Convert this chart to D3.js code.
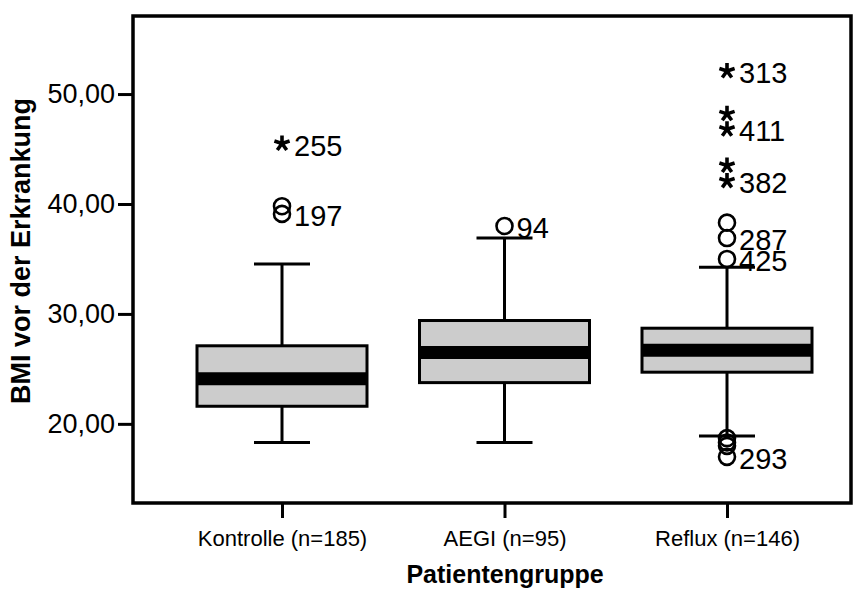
<!DOCTYPE html>
<html>
<head>
<meta charset="utf-8">
<script src="https://cdn.jsdelivr.net/npm/d3@7"></script>
<style>
  html, body { margin: 0; padding: 0; background: #fff; }
  svg { display: block; font-family: "Liberation Sans", Arial, sans-serif; }
</style>
</head>
<body>
<svg id="chart" width="864" height="590"></svg>
<script>
// Patient groups and their BMI box statistics
const categories = ["Kontrolle (n=185)", "AEGI (n=95)", "Reflux (n=146)"];
const whiskerLow  = [18.3, 18.3, 18.9];
const q1          = [21.6, 23.75, 24.7];
const median      = [24.1, 26.5, 26.7];
const q3          = [27.1, 29.4, 28.7];
const whiskerHigh = [34.55, 36.9, 34.25];

// Outliers (circles) and extreme values (stars): group index, BMI, case label
const outlierGroup = [0, 0, 1, 2, 2, 2, 2, 2, 2, 2];
const outlierValue = [39.8, 39.1, 38.0, 38.3, 36.9, 35.0, 18.7, 18.3, 18.0, 17.0];
const outlierLabel = ["", "197", "94", "", "287", "425", "", "", "", "293"];

const extremeGroup = [0, 2, 2, 2, 2, 2];
const extremeValue = [45.5, 52.1, 48.2, 46.8, 43.5, 42.1];
const extremeLabel = ["255", "313", "", "411", "", "382"];

const yTicks = [20, 30, 40, 50];
const yTitle = "BMI vor der Erkrankung";
const xTitle = "Patientengruppe";

const svg = d3.select("#chart");
const frame = { left: 133, right: 851, top: 16, bottom: 503 };

const y = d3.scaleLinear().domain([12.8, 57.1]).range([frame.bottom, frame.top]);
const x = d3.scalePoint().domain(categories).range([282, 727]);

const boxHalf = 85, capHalf = 28;
const fmt = v => d3.format(".2f")(v).replace(".", ",");

// plot frame
svg.append("rect")
  .attr("x", frame.left).attr("y", frame.top)
  .attr("width", frame.right - frame.left).attr("height", frame.bottom - frame.top)
  .attr("fill", "none").attr("stroke", "#000").attr("stroke-width", 3.5);

// y axis
const yAxis = svg.append("g")
  .attr("transform", `translate(${frame.left},0)`)
  .call(d3.axisLeft(y).tickValues(yTicks).tickFormat(fmt).tickSize(15).tickPadding(3));
yAxis.select(".domain").remove();
yAxis.selectAll(".tick line").attr("stroke", "#000").attr("stroke-width", 3);
yAxis.selectAll(".tick text")
  .attr("fill", "#000").style("font-size", "27px")
  .style("font-family", "Liberation Sans, Arial, sans-serif");

// x axis
const xAxis = svg.append("g")
  .attr("transform", `translate(0,${frame.bottom})`)
  .call(d3.axisBottom(x).tickSize(15).tickPadding(12));
xAxis.select(".domain").remove();
xAxis.selectAll(".tick line").attr("stroke", "#000").attr("stroke-width", 3);
xAxis.selectAll(".tick text")
  .attr("fill", "#000").style("font-size", "22px")
  .style("font-family", "Liberation Sans, Arial, sans-serif");

// axis titles
svg.append("text")
  .attr("x", 505).attr("y", 583)
  .attr("text-anchor", "middle")
  .style("font-size", "25px").style("font-weight", "bold")
  .text(xTitle);
svg.append("text")
  .attr("transform", "translate(30,251) rotate(-90)")
  .attr("text-anchor", "middle")
  .style("font-size", "27px").style("font-weight", "bold")
  .text(yTitle);

// boxes
const stats = categories.map((c, i) => ({
  c, lo: whiskerLow[i], q1: q1[i], med: median[i], q3: q3[i], hi: whiskerHigh[i]
}));
const g = svg.append("g").selectAll("g").data(stats).join("g");

g.append("line")
  .attr("x1", d => x(d.c)).attr("x2", d => x(d.c))
  .attr("y1", d => y(d.hi)).attr("y2", d => y(d.q3))
  .attr("stroke", "#000").attr("stroke-width", 3);
g.append("line")
  .attr("x1", d => x(d.c)).attr("x2", d => x(d.c))
  .attr("y1", d => y(d.q1)).attr("y2", d => y(d.lo))
  .attr("stroke", "#000").attr("stroke-width", 3);
g.selectAll(".cap").data(d => [[d.c, d.hi], [d.c, d.lo]]).join("line")
  .attr("class", "cap")
  .attr("x1", d => x(d[0]) - capHalf).attr("x2", d => x(d[0]) + capHalf)
  .attr("y1", d => y(d[1])).attr("y2", d => y(d[1]))
  .attr("stroke", "#000").attr("stroke-width", 3);
g.append("rect")
  .attr("x", d => x(d.c) - boxHalf).attr("width", 2 * boxHalf)
  .attr("y", d => y(d.q3)).attr("height", d => y(d.q1) - y(d.q3))
  .attr("fill", "#cccccc").attr("stroke", "#000").attr("stroke-width", 3);
g.append("line")
  .attr("x1", d => x(d.c) - boxHalf).attr("x2", d => x(d.c) + boxHalf)
  .attr("y1", d => y(d.med)).attr("y2", d => y(d.med))
  .attr("stroke", "#000").attr("stroke-width", 13);

// outlier circles
const outliers = outlierValue.map((v, i) => ({ c: categories[outlierGroup[i]], v, label: outlierLabel[i] }));
svg.append("g").selectAll("circle").data(outliers).join("circle")
  .attr("cx", d => x(d.c)).attr("cy", d => y(d.v)).attr("r", 8)
  .attr("fill", "none").attr("stroke", "#000").attr("stroke-width", 2.6);

// extreme stars: five strokes radiating from the centre
const starPath = (r) => {
  const p = d3.path();
  for (let k = 0; k < 5; k++) {
    const a = -Math.PI / 2 + k * 2 * Math.PI / 5;
    p.moveTo(0, 0);
    p.lineTo(r * Math.cos(a), r * Math.sin(a));
  }
  return p.toString();
};
const extremes = extremeValue.map((v, i) => ({ c: categories[extremeGroup[i]], v, label: extremeLabel[i] }));
svg.append("g").selectAll("path").data(extremes).join("path")
  .attr("transform", d => `translate(${x(d.c)},${y(d.v)})`)
  .attr("d", starPath(8))
  .attr("fill", "none").attr("stroke", "#000").attr("stroke-width", 3.6);

// case labels
const labelled = outliers.concat(extremes).filter(d => d.label);
svg.append("g").selectAll("text").data(labelled).join("text")
  .attr("x", d => x(d.c) + 12).attr("y", d => y(d.v) + 2)
  .attr("dominant-baseline", "central")
  .style("font-size", "29px")
  .text(d => d.label);
</script>
</body>
</html>
